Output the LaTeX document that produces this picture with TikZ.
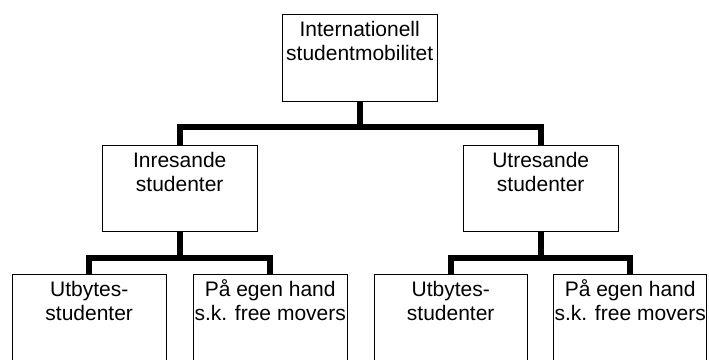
\documentclass[tikz,border=0pt]{standalone}
\usepackage{fontspec}
\setmainfont{Liberation Sans}
\tikzset{
  box/.style={draw=black, line width=1.4pt, inner sep=0pt, anchor=north west, fill=white},
  bar/.style={draw=black, line width=6pt, line join=miter, line cap=butt},
}
\newcommand{\boxtext}[3]{\begin{minipage}[t][#2][t]{#1}\centering\fontsize{21}{23.3}\selectfont\rule{0pt}{22.7pt}#3\end{minipage}}
\begin{document}
\begin{tikzpicture}[x=1pt,y=-1pt]
\useasboundingbox (0,0) rectangle (709,359);
\clip (0,0) rectangle (709,359);
\node[box] (top) at (281.5,13.5) {\boxtext{155pt}{87pt}{Internationell\\studentmobilitet}};
\node[box] (inr) at (101.5,144.5) {\boxtext{155pt}{86.5pt}{Inresande\\studenter}};
\node[box] (utr) at (462.5,144.5) {\boxtext{155pt}{86.5pt}{Utresande\\studenter}};
\node[box] (b1) at (11.5,273.5) {\boxtext{154pt}{100pt}{Utbytes-\\studenter}};
\node[box] (b2) at (192.5,273.5) {\boxtext{154pt}{100pt}{På egen hand\\s.k. free movers}};
\node[box] (b3) at (373.5,273.5) {\boxtext{153pt}{100pt}{Utbytes-\\studenter}};
\node[box] (b4) at (553,273.5) {\boxtext{153pt}{100pt}{På egen hand\\s.k. free movers}};
\draw[bar] (top.south) -- ++(0,25) -| (inr.north);
\draw[bar] (top.south) -- ++(0,25) -| (utr.north);
\draw[bar] (inr.south) -- ++(0,26) -| (b1.north);
\draw[bar] (inr.south) -- ++(0,26) -| (b2.north);
\draw[bar] (utr.south) -- ++(0,26) -| (b3.north);
\draw[bar] (utr.south) -- ++(0,26) -| (b4.north);
\end{tikzpicture}
\end{document}
